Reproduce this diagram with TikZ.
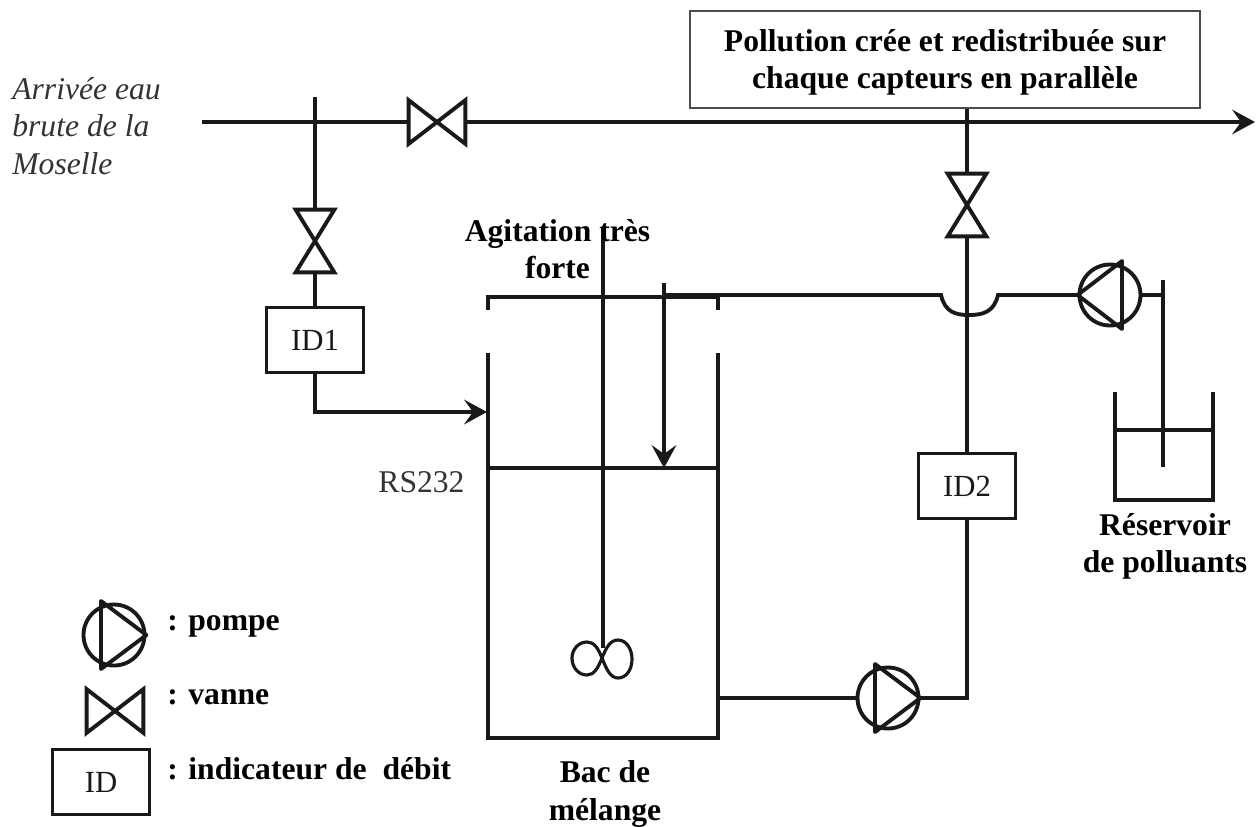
\documentclass[tikz,border=0pt]{standalone}
\usepackage{fontspec}
\setmainfont{Liberation Serif}
\usetikzlibrary{calc, positioning, arrows.meta}
\tikzset{
  pipe/.style={line width=2.2pt, black!90},
  flow/.style={pipe, -{Stealth[length=13pt,width=14pt,inset=5pt]}},
  vanneh/.style={minimum width=1.12cm, minimum height=0.86cm, inner sep=0pt},
  vannev/.style={minimum width=0.76cm, minimum height=1.24cm, inner sep=0pt},
  pompe/.style={circle, pipe, draw, minimum size=1.22cm, inner sep=0pt},
  debit/.style={pipe, draw, minimum width=1.94cm, minimum height=1.3cm, inner sep=0pt, font=\fontsize{17.5}{20}\selectfont},
  titre/.style={font=\fontsize{18}{21.2}\selectfont\bfseries, align=center, inner sep=0pt},
}
\begin{document}
\begin{tikzpicture}[x=0.02cm, y=-0.02cm]
  \useasboundingbox (0,0) rectangle (1260,826);

  % Vannes et pompes
  \node[vanneh] (v1) at (437,122) {};
  \node[vannev] (v2) at (315,241) {};
  \node[vannev] (v3) at (967,205) {};
  \node[vanneh] (vleg) at (115,711) {};
  \foreach \v in {v1, vleg}
    \draw[pipe] (\v.north west) -- (\v.south east) -- (\v.north east) -- (\v.south west) -- cycle;
  \foreach \v in {v2, v3}
    \draw[pipe] (\v.north west) -- (\v.south east) -- (\v.south west) -- (\v.north east) -- cycle;
  \node[pompe] (p1) at (888,698) {};
  \node[pompe] (p2) at (1110,295) {};
  \node[pompe] (pleg) at (114,635) {};
  \foreach \p in {p1, pleg}
    \draw[pipe, line join=round] ($(\p.center)+(-13,-34)$) -- ($(\p.center)+(-13,34)$) -- (\p.east) -- cycle;
  \draw[pipe, line join=round] ($(p2.center)+(12,-34)$) -- ($(p2.center)+(12,34)$) -- (p2.west) -- cycle;

  % Indicateurs
  \node[debit] (id1) at (315,340) {ID1};
  \node[debit] (id2) at (967,486) {ID2};
  \node[debit] (idleg) at (101,782) {ID};

  % Ligne principale
  \coordinate (arrivee) at (202,122);
  \coordinate (sortie) at (1255,122);
  \coordinate (haut1) at (315,97);
  \coordinate (nj3) at (967,108);
  \draw[pipe] (arrivee) -- (v1.west);
  \draw[flow] (v1.east) -- (sortie);
  \draw[pipe] (haut1) -- (v2.north);
  \draw[pipe] (v2.south) -- (id1.north);
  \draw[pipe] (nj3) -- (v3.north);

  % Bac de melange
  \coordinate (bacg) at (488,353);
  \coordinate (bacd) at (718,353);
  \draw[pipe] (bacg) -- (488,738) -- (718,738) -- (bacd);
  \draw[pipe] (488,310) -- (488,297) -- (718,297) -- (718,310);
  \draw[pipe] (488,468) -- (718,468);
  \draw[flow] (id1.south) -- (315,412) -- (487,412);
  % agitateur
  \draw[pipe] (603,228) -- (603,648);
  \draw[pipe, line width=1.8pt] (602,658) .. controls (606,648) and (610,640) .. (618,640)
    .. controls (627,640) and (632,650) .. (632,659) .. controls (632,670) and (626,678) .. (618,678)
    .. controls (610,678) and (606,668) .. (602,658) .. controls (598,648) and (594,642) .. (587,642)
    .. controls (578,642) and (572,650) .. (572,658) .. controls (572,667) and (578,675) .. (587,675)
    .. controls (594,675) and (598,668) .. (602,658) -- cycle;

  % Circuit de pollution
  \coordinate (hopg) at (941,295);
  \coordinate (hopd) at (998,295);
  \coordinate (injection) at (664,283);
  \draw[flow] (injection) -- (664,468);
  \draw[pipe] (664,295) -- (hopg) .. controls (945,312) and (955,315) .. (969,315)
    .. controls (983,315) and (994,312) .. (hopd) -- (p2.west);
  \draw[pipe] (v3.south) -- (id2.north);
  \draw[pipe] (id2.south) -- (967,698) -- (p1.east);
  \draw[pipe] (718,698) -- (p1.west);
  \draw[pipe] (p2.east) -- (1163,295);

  % Reservoir
  \draw[pipe] (1163,280) -- (1163,467);
  \draw[pipe] (1115,392) -- (1115,500) -- (1213,500) -- (1213,392);
  \draw[pipe] (1115,430) -- (1213,430);

  % Textes
  \node[draw=black!70, line width=0.9pt, minimum width=10.2cm, minimum height=1.94cm, titre] (pollution) at (945,59.5)
    {\rule{0pt}{15.7pt}Pollution crée et redistribuée sur\\chaque capteurs en parallèle};
  \node[font=\fontsize{18}{21.3}\selectfont\itshape, align=left, inner sep=0pt, anchor=west, black!80] (eau) at (12,126)
    {Arrivée eau\\brute de la\\Moselle};
  \node[titre] (agitation) at (557.5,249) {Agitation très\\forte};
  \node[font=\fontsize{18}{20}\selectfont, inner sep=0pt, anchor=base, black!80] (rs) at (421.5,492) {RS232};
  \node[titre] (reservoir) at (1165,546) {Réservoir\\de polluants};
  \node[titre] (bac) at (605,794) {Bac de\\mélange};
  \node[titre, anchor=base west] (lpompe) at (167,630) {: pompe};
  \node[titre, anchor=base west] (lvanne) at (167,704) {: vanne};
  \node[titre, anchor=base west] (lid) at (167,779) {: indicateur de\ \ débit};
\end{tikzpicture}
\end{document}
